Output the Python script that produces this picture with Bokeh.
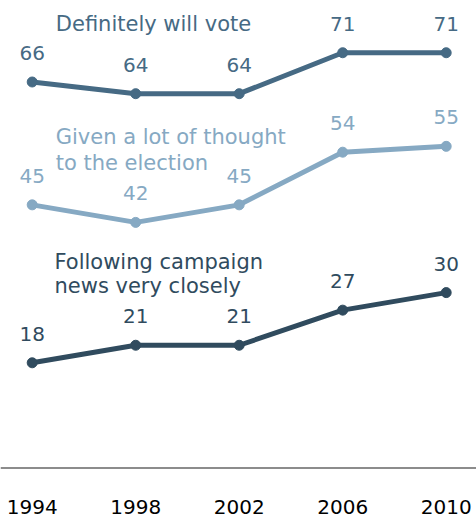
from bokeh.plotting import figure
from bokeh.models import ColumnDataSource, Span, FixedTicker, Label
from bokeh.core.properties import value
from bokeh.embed import file_html
from bokeh.resources import INLINE

# ---- data ----
years = [1994, 1998, 2002, 2006, 2010]
year_labels = ["1994", "1998", "2002", "2006", "2010"]
definitely_vote = [66, 64, 64, 71, 71]
given_thought = [45, 42, 45, 54, 55]
following_news = [18, 21, 21, 27, 30]
name_definitely = ["Definitely will vote"]
name_given = ["Given a lot of thought", "to the election"]
name_following = ["Following campaign", "news very closely"]

# ---- styles ----
FONT = "DejaVu Sans"
FS = "20px"
FS_NAME = "21px"
colors = ["#466a84", "#86a9c3", "#304b5e"]

p = figure(width=476, height=518,
           x_range=(1992.775, 2011.171), y_range=(-1.094, 79.93),
           min_border_left=0, min_border_right=0, min_border_top=0,
           min_border_bottom=44, y_axis_location=None,
           toolbar_location=None, output_backend="svg",
           outline_line_color=None, background_fill_color="white")
p.grid.visible = False

p.add_layout(Span(location=0, dimension="width", line_color="#8c8c8c",
                  line_width=2))

series = [definitely_vote, given_thought, following_news]
for vals, col in zip(series, colors):
    src = ColumnDataSource(dict(x=years, y=vals, t=[str(v) for v in vals]))
    p.line("x", "y", source=src, line_color=col, line_width=5)
    p.scatter("x", "y", source=src, marker="circle", size=10,
              fill_color=col, line_color=col)
    p.text("x", "y", text="t", source=src, y_offset=-29,
           text_align="center", text_baseline="alphabetic",
           text_font=value(FONT), text_font_size=FS, text_color=col)

# series names (data coordinates)
name_pos = [
    (name_definitely, 1994.912, [75.85], colors[0]),
    (name_given, 1994.908, [56.6, 52.15], colors[1]),
    (name_following, 1994.862, [35.3, 31.05], colors[2]),
]
for lines, xx, ys, col in name_pos:
    for txt, yy in zip(lines, ys):
        p.add_layout(Label(x=xx, y=yy, text=txt, text_font=FONT,
                           text_font_size=FS_NAME, text_color=col,
                           text_align="left", text_baseline="alphabetic"))

ax = p.xaxis[0]
ax.ticker = FixedTicker(ticks=years)
ax.major_label_overrides = {y: l for y, l in zip(years, year_labels)}
ax.axis_line_color = None
ax.major_tick_line_color = None
ax.minor_tick_line_color = None
ax.major_tick_in = 0
ax.major_tick_out = 0
ax.major_label_standoff = 25
ax.major_label_text_font = FONT
ax.major_label_text_font_size = FS
ax.major_label_text_color = "#000000"

open("out.html", "w").write(file_html(p, INLINE))
